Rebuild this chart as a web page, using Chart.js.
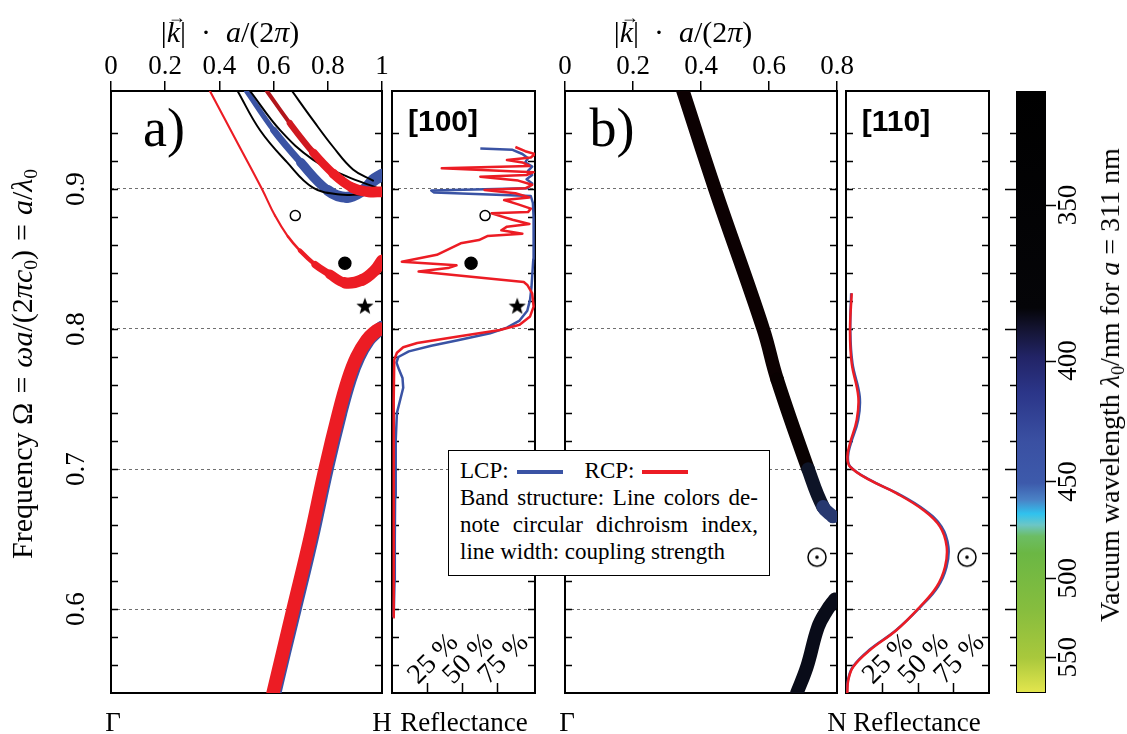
<!DOCTYPE html>
<html>
<head>
<meta charset="utf-8">
<title>Band structure and reflectance</title>
<script src="https://cdn.jsdelivr.net/npm/chart.js@4.4.1/dist/chart.umd.min.js"></script>
<style>
  html, body { margin: 0; padding: 0; background: #fff; }
  #fig { position: relative; width: 1127px; height: 734px; overflow: hidden; background: #fff;
         font-family: 'Liberation Serif', 'DejaVu Serif', serif; color: #000; }
  #fig canvas { position: absolute; left: 0; top: 0; }
  .lbl { position: absolute; white-space: nowrap; font-size: 27px; line-height: 1; transform: translate(-50%, -50%); }
  .rot { transform: translate(-50%, -50%) rotate(-90deg); }
  .ktitle { font-size: 30px; }
  .eq { margin: 0 0.3em; }
  .tag { font-size: 54px; }
  .dir { font-family: 'Liberation Sans', Arial, sans-serif; font-weight: bold; font-size: 30px; }
  .vec { position: relative; display: inline-block; }
  .vec::after { content: '\2192'; position: absolute; left: 0.06em; top: -0.5em; font-size: 0.6em; font-style: normal; }
  sub { font-size: 0.65em; vertical-align: -0.25em; line-height: 0; }
  #legend { position: absolute; left: 448px; top: 450px; width: 322px; height: 126px; box-sizing: border-box;
            border: 1.5px solid #000; background: #fff; padding: 6px 11px 0 11px; font-size: 23px; line-height: 27px; }
  #legend .just { text-align: justify; text-align-last: justify; }
  #legend .sw { display: inline-block; width: 46px; height: 4px; vertical-align: middle; margin-left: 8px; position: relative; top: -1px; }
  #legend .gap { display: inline-block; width: 22px; }
</style>
</head>
<body>
<div id="fig">
  <canvas id="bandA" width="1127" height="734"></canvas>
  <canvas id="reflA" width="1127" height="734"></canvas>
  <canvas id="bandB" width="1127" height="734"></canvas>
  <canvas id="reflB" width="1127" height="734"></canvas>
  <canvas id="cbar" width="1127" height="734"></canvas>

  <div class="lbl ktitle" style="left:230px; top:32px">|<span class="vec"><i>k</i></span>|&ensp;·&ensp;<i>a</i>/(2<i>π</i>)</div>
  <div class="lbl ktitle" style="left:683px; top:32px">|<span class="vec"><i>k</i></span>|&ensp;·&ensp;<i>a</i>/(2<i>π</i>)</div>
  <div class="lbl rot" style="left:22px; top:364px; font-size:30px">Frequency Ω<span class="eq">=</span><i>ωa</i>/(2<i>πc</i><sub>0</sub>)<span class="eq">=</span><i>a</i>/<i>λ</i><sub>0</sub></div>
  <div class="lbl tag" style="left:164px; top:128px">a)</div>
  <div class="lbl tag" style="left:612px; top:128px">b)</div>
  <div class="lbl dir" style="left:443px; top:121px">[100]</div>
  <div class="lbl dir" style="left:896px; top:121px">[110]</div>
  <div class="lbl" style="left:113px; top:722px">Γ</div>
  <div class="lbl" style="left:382px; top:722px">H</div>
  <div class="lbl" style="left:464px; top:722px">Reflectance</div>
  <div class="lbl" style="left:567px; top:722px">Γ</div>
  <div class="lbl" style="left:837px; top:722px">N</div>
  <div class="lbl" style="left:917px; top:722px">Reflectance</div>
  <div class="lbl rot" style="left:1110px; top:385px; font-size:28px">Vacuum wavelength <i>λ</i><sub>0</sub>/nm for <i>a</i> = 311 nm</div>

  <div id="legend">
    <div>LCP:<span class="sw" style="background:#3a53a4"></span><span class="gap"></span>RCP:<span class="sw" style="background:#ec1c24"></span></div>
    <div class="just">Band structure: Line colors de-</div>
    <div class="just">note circular dichroism index,</div>
    <div>line width: coupling strength</div>
  </div>
</div>

<script>
// ---- axes ----
const omegaMin = 0.54;
const omegaMax = 0.97;
const omegaLabels = [0.6, 0.7, 0.8, 0.9];
const reflTicks = [0.25, 0.5, 0.75];
const latticeConst = 311;
const cbWavelengths = [350, 400, 450, 500, 550];

// ---- a) band structure along Gamma-H ----
const lowerRedK = [0.598, 0.635, 0.672, 0.734, 0.790, 0.840, 0.875, 0.907, 0.944, 0.975, 0.992];
const lowerRedOmega = [0.540, 0.570, 0.600, 0.650, 0.700, 0.740, 0.764, 0.780, 0.792, 0.798, 0.800];
const lowerBlueK = [0.604, 0.641, 0.679, 0.741, 0.797, 0.847, 0.882, 0.914, 0.950, 0.980, 1.000];
const lowerBlueOmega = [0.540, 0.570, 0.600, 0.650, 0.700, 0.740, 0.764, 0.780, 0.792, 0.798, 0.801];

const redThinK = [0.365, 0.461, 0.557, 0.605, 0.653, 0.697, 0.753, 0.808, 0.863, 0.926, 0.974, 1.000];
const redThinOmega = [0.970, 0.935, 0.900, 0.881, 0.866, 0.856, 0.846, 0.839, 0.833, 0.835, 0.842, 0.849];
const redThinCoupling = [0.05, 0.05, 0.05, 0.05, 0.06, 0.12, 0.35, 0.6, 0.8, 0.85, 0.85, 0.85];

const blackOneK = [0.467, 0.550, 0.650, 0.745, 0.845, 0.920];
const blackOneOmega = [0.970, 0.942, 0.919, 0.901, 0.896, 0.896];
const blackTwoK = [0.513, 0.624, 0.745, 0.870, 0.980];
const blackTwoOmega = [0.970, 0.942, 0.921, 0.909, 0.901];
const blackThreeK = [0.668, 0.746, 0.820, 0.893, 0.967];
const blackThreeOmega = [0.970, 0.949, 0.930, 0.914, 0.906];

const blueThickK = [0.500, 0.600, 0.700, 0.800, 0.870, 0.930, 0.967, 1.000];
const blueThickOmega = [0.970, 0.942, 0.919, 0.899, 0.894, 0.899, 0.906, 0.910];
const blueThickCoupling = [0.25, 0.35, 0.55, 0.75, 0.8, 0.8, 0.85, 0.95];

const redThickK = [0.575, 0.660, 0.746, 0.820, 0.890, 0.950, 1.000];
const redThickOmega = [0.970, 0.947, 0.926, 0.911, 0.901, 0.898, 0.898];
const redThickCoupling = [0.12, 0.3, 0.5, 0.65, 0.72, 0.75, 0.8];
const redThickCd = [0.7, 0.8, 0.95, 1, 1, 1, 1];

// ---- [100] reflectance ----
const reflABlueOmega = [0.594, 0.62, 0.65, 0.68, 0.70, 0.72, 0.74, 0.750, 0.758, 0.765, 0.771, 0.776, 0.780, 0.784, 0.788,
  0.792, 0.797, 0.801, 0.806, 0.813, 0.821, 0.83, 0.85, 0.87, 0.88, 0.89, 0.895, 0.8975, 0.899, 0.9005, 0.904, 0.907,
  0.910, 0.913, 0.916, 0.919, 0.922, 0.925, 0.928, 0.929];
const reflABlueR = [0.012, 0.018, 0.02, 0.022, 0.025, 0.028, 0.035, 0.06, 0.08, 0.075, 0.05, 0.032, 0.045, 0.12, 0.28,
  0.47, 0.70, 0.82, 0.91, 0.965, 0.985, 0.995, 1.008, 1.01, 1.01, 1.005, 0.99, 0.30, 0.28, 0.97, 1.0, 0.96,
  1.0, 0.97, 1.0, 0.95, 0.97, 0.93, 0.86, 0.63];
const reflARedOmega = [0.594, 0.65, 0.70, 0.75, 0.778, 0.783, 0.787, 0.790, 0.7945, 0.7993, 0.803, 0.809, 0.816, 0.8255,
  0.8315, 0.8335, 0.841, 0.8435, 0.8455, 0.848, 0.853, 0.8612, 0.8635, 0.8664, 0.868, 0.8705, 0.8731, 0.875, 0.878,
  0.8826, 0.8835, 0.886, 0.889, 0.8921, 0.894, 0.897, 0.8993, 0.9005, 0.903, 0.906, 0.9088, 0.910, 0.912, 0.9148,
  0.9165, 0.919, 0.9207, 0.9225, 0.925, 0.927, 0.930];
const reflARedR = [0.01, 0.012, 0.012, 0.013, 0.016, 0.035, 0.08, 0.18, 0.46, 0.77, 0.91, 0.985, 1.01, 1.0,
  0.965, 0.94, 0.19, 0.40, 0.46, 0.07, 0.32, 0.49, 0.62, 0.68, 0.93, 0.78, 0.82, 0.98, 0.86,
  0.71, 0.97, 0.99, 0.90, 0.80, 0.98, 0.88, 0.66, 0.95, 1.0, 0.90, 0.63, 0.96, 1.01, 0.355,
  0.98, 0.93, 0.82, 0.99, 1.02, 0.95, 0.88];

// ---- b) band structure along Gamma-N ----
const bandB1K = [0.347, 0.441, 0.583, 0.624, 0.715, 0.759, 0.788];
const bandB1Omega = [0.970, 0.900, 0.800, 0.764, 0.700, 0.673, 0.666];
const bandB1Cd = [0.05, 0.05, 0.05, 0.05, 0.03, -0.5, -0.85];
const bandB2K = [0.682, 0.712, 0.744, 0.770, 0.794];
const bandB2Omega = [0.540, 0.559, 0.587, 0.599, 0.607];
const bandB2Cd = [-0.15, -0.15, -0.15, -0.15, -0.15];

// ---- [110] reflectance ----
const reflBOmega = [0.54, 0.5493, 0.5588, 0.5707, 0.585, 0.6016, 0.6159, 0.630, 0.6445, 0.6588, 0.6707, 0.6826,
  0.692, 0.7017, 0.709, 0.7183, 0.735, 0.7517, 0.7755, 0.799, 0.8255];
const reflBRedR = [0.009, 0.016, 0.051, 0.168, 0.354, 0.517, 0.634, 0.692, 0.704, 0.657, 0.54, 0.354,
  0.168, 0.028, 0.01, 0.028, 0.075, 0.086, 0.04, 0.028, 0.04];
const reflBBlueR = [0.006, 0.014, 0.048, 0.162, 0.352, 0.522, 0.643, 0.703, 0.716, 0.668, 0.55, 0.36,
  0.17, 0.03, 0.014, 0.034, 0.085, 0.096, 0.045, 0.03, 0.036];

// ---- colour bar (vacuum wavelength) ----
const cbOmega = [0.97, 0.815, 0.800, 0.780, 0.755, 0.72, 0.69, 0.678, 0.668, 0.660, 0.652, 0.640, 0.60, 0.565, 0.54];
const cbColors = ['#000000', '#050508', '#141432', '#222466', '#2b3588', '#3a50a2', '#3d5aab', '#4a82c6', '#30c2ee',
  '#6cc6c6', '#6cbd64', '#6bb744', '#86bd3e', '#a9c83c', '#e4e64e'];

// ---- markers ----
const markersA = { open: [0.68, 0.881], filled: [0.863, 0.847], star: [0.937, 0.816] };
const markersReflA = { open: [0.664, 0.881], filled: [0.564, 0.847], star: [0.893, 0.816] };
const markerB = [0.741, 0.637];
const markerReflB = [0.846, 0.637];

// =====================================================================
const W = 1127, H = 734;
const serif = "'Liberation Serif', 'DejaVu Serif', serif";
const RED = '#ec1c24', BLUE = '#3a53a4';

Chart.defaults.font.family = serif;
Chart.defaults.color = '#000';

function pts(xs, ys) { return xs.map((x, i) => ({ x: x, y: ys[i] })); }
function val(a, i) { return Array.isArray(a) ? a[i] : a; }
function isMajor(v) { return Math.abs(v * 10 - Math.round(v * 10)) < 1e-6; }

function cdColor(cd) {
  const t = Math.min(1, Math.abs(cd));
  const c = cd >= 0 ? [236, 28, 36] : [58, 83, 164];
  return 'rgb(' + c.map(v => Math.round(v * t)).join(',') + ')';
}
function widthOf(c) { return 1.5 + 12 * c; }

function band(k, om, coupling, cd, order) {
  const avg = (a, s) => (val(a, s.p0DataIndex) + val(a, s.p1DataIndex)) / 2;
  const cMax = Array.isArray(coupling) ? Math.max.apply(null, coupling) : coupling;
  return {
    data: pts(k, om),
    borderColor: cdColor(val(cd, 0)),
    borderWidth: widthOf(cMax),
    segment: {
      borderWidth: s => widthOf(avg(coupling, s)),
      borderColor: s => cdColor(avg(cd, s))
    },
    borderCapStyle: 'round',
    borderJoinStyle: 'round',
    tension: 0.4,
    pointRadius: 0,
    order: order
  };
}

function reflLine(omega, r, color, order, tension) {
  return { data: pts(r, omega), borderColor: color, borderWidth: 2.5, borderJoinStyle: 'round',
           tension: tension, pointRadius: 0, order: order };
}

function marker(p, style, radius, fill) {
  return { data: [{ x: p[0], y: p[1] }], showLine: false, pointStyle: style, pointRadius: radius,
           pointBackgroundColor: fill, pointBorderColor: '#000', pointBorderWidth: 1.5, order: 0 };
}

function starImage(r) {
  const c = document.createElement('canvas');
  const s = Math.ceil(2 * r + 2);
  c.width = c.height = s;
  const g = c.getContext('2d');
  g.fillStyle = '#000';
  g.beginPath();
  for (let i = 0; i < 10; i++) {
    const ang = -Math.PI / 2 + i * Math.PI / 5;
    const rr = i % 2 ? r * 0.42 : r;
    g.lineTo(s / 2 + rr * Math.cos(ang), s / 2 + rr * Math.sin(ang));
  }
  g.closePath();
  g.fill();
  return c;
}
function odotImage(r) {
  const c = document.createElement('canvas');
  const s = Math.ceil(2 * r + 4);
  c.width = c.height = s;
  const g = c.getContext('2d');
  g.strokeStyle = '#000';
  g.lineWidth = 1.5;
  g.beginPath(); g.arc(s / 2, s / 2, r, 0, 2 * Math.PI); g.stroke();
  g.fillStyle = '#000';
  g.beginPath(); g.arc(s / 2, s / 2, 1.8, 0, 2 * Math.PI); g.fill();
  return c;
}
const star = starImage(9);
const odot = odotImage(9);

function omegaScale() {
  return {
    type: 'linear', min: omegaMin, max: omegaMax,
    ticks: { stepSize: 0.02, display: false },
    grid: { drawTicks: false, lineWidth: 1,
            color: c => (c.tick && isMajor(c.tick.value)) ? '#707070' : 'rgba(0,0,0,0)' },
    border: { display: false, dash: [3, 3] },
    afterFit: s => { s.width = 0; }
  };
}

const kAxisHeight = 46;
function kScale(max) {
  return {
    type: 'linear', position: 'top', min: 0, max: max,
    ticks: { stepSize: 0.2, font: { size: 27 }, color: '#000', padding: -2, maxRotation: 0, autoSkip: false,
             callback: v => String(Math.round(v * 10) / 10) },
    grid: { drawOnChartArea: false, drawTicks: true, tickLength: 10, color: '#000', lineWidth: 1.5 },
    border: { display: true, color: '#000', width: 2 },
    afterFit: s => { s.height = kAxisHeight; }
  };
}

function reflScale(max) {
  return { type: 'linear', min: 0, max: max, display: false };
}

// frame, inner ticks and rotated labels
function decor(cfg) {
  return {
    id: 'decor',
    beforeDatasetsDraw(chart) {
      const { ctx, chartArea: a, scales: { x, y } } = chart;
      ctx.save();
      ctx.strokeStyle = '#000';
      ctx.lineWidth = 1.5;
      ctx.beginPath();
      y.ticks.forEach(t => {
        if (t.value <= omegaMin + 1e-9 || t.value >= omegaMax - 1e-9) return;
        const py = Math.round(y.getPixelForValue(t.value)) + 0.5;
        ctx.moveTo(a.left, py); ctx.lineTo(a.left + 7, py);
        ctx.moveTo(a.right, py); ctx.lineTo(a.right - 7, py);
      });
      if (cfg.refl) {
        reflTicks.forEach(v => {
          const px = Math.round(x.getPixelForValue(v)) + 0.5;
          ctx.moveTo(px, a.bottom); ctx.lineTo(px, a.bottom - 10);
        });
      }
      ctx.stroke();
      ctx.lineWidth = 2;
      ctx.strokeRect(a.left, a.top, a.right - a.left, a.bottom - a.top);
      ctx.restore();
    },
    afterDraw(chart) {
      const { ctx, chartArea: a, scales: { x, y } } = chart;
      ctx.save();
      ctx.fillStyle = '#000';
      ctx.font = '27px ' + serif;
      if (cfg.yLabels) {
        ctx.textAlign = 'center';
        ctx.textBaseline = 'middle';
        omegaLabels.forEach(v => {
          ctx.save();
          ctx.translate(a.left - 34, y.getPixelForValue(v));
          ctx.rotate(-Math.PI / 2);
          ctx.fillText(v.toFixed(1), 0, 0);
          ctx.restore();
        });
      }
      if (cfg.refl) {
        ctx.font = '28px ' + serif;
        ctx.textAlign = 'left';
        ctx.textBaseline = 'alphabetic';
        reflTicks.forEach(v => {
          ctx.save();
          ctx.translate(x.getPixelForValue(v) - 9, a.bottom - 8);
          ctx.rotate(-Math.PI / 4);
          ctx.fillText(Math.round(v * 100) + ' %', 0, 0);
          ctx.restore();
        });
      }
      ctx.restore();
    }
  };
}

function makeChart(id, area, datasets, xScale, cfg) {
  const top = cfg.kAxis ? 91 - kAxisHeight : 91;
  return new Chart(document.getElementById(id), {
    type: 'line',
    data: { datasets: datasets },
    options: {
      responsive: false,
      animation: false,
      events: [],
      layout: { padding: { left: area[0], top: top, right: W - area[1], bottom: H - 693 } },
      scales: { x: xScale, y: omegaScale() },
      plugins: { legend: { display: false }, tooltip: { enabled: false } }
    },
    plugins: [decor(cfg)]
  });
}

// a) band structure
makeChart('bandA', [111, 382], [
  band(lowerBlueK, lowerBlueOmega, 1, -1, 20),
  band(lowerRedK, lowerRedOmega, 1, 1, 19),
  band(redThinK, redThinOmega, redThinCoupling, 1, 18),
  band(blueThickK, blueThickOmega, blueThickCoupling, -1, 17),
  band(blackOneK, blackOneOmega, 0.04, 0, 16),
  band(blackTwoK, blackTwoOmega, 0.04, 0, 16),
  band(redThickK, redThickOmega, redThickCoupling, redThickCd, 15),
  band(blackThreeK, blackThreeOmega, 0.04, 0, 14),
  marker(markersA.open, 'circle', 5, '#fff'),
  marker(markersA.filled, 'circle', 6, '#000'),
  marker(markersA.star, star, 9, '#000')
], kScale(1), { yLabels: true, kAxis: true });

// [100] reflectance
makeChart('reflA', [392, 535], [
  reflLine(reflABlueOmega, reflABlueR, BLUE, 6, 0),
  reflLine(reflARedOmega, reflARedR, RED, 5, 0),
  marker(markersReflA.open, 'circle', 5, '#fff'),
  marker(markersReflA.filled, 'circle', 6, '#000'),
  marker(markersReflA.star, star, 9, '#000')
], reflScale(1.02), { refl: true });

// b) band structure
makeChart('bandB', [565, 837], [
  band(bandB1K, bandB1Omega, 1, bandB1Cd, 10),
  band(bandB2K, bandB2Omega, 1, bandB2Cd, 9),
  marker(markerB, odot, 9, '#fff')
], kScale(0.8), { kAxis: true });

// [110] reflectance
makeChart('reflB', [846, 989], [
  reflLine(reflBOmega, reflBBlueR, BLUE, 6, 0.4),
  reflLine(reflBOmega, reflBRedR, RED, 5, 0.4),
  marker(markerReflB, odot, 9, '#fff')
], reflScale(1), { refl: true });

// colour bar
const cbarDecor = {
  id: 'cbarDecor',
  afterDraw(chart) {
    const { ctx, chartArea: a, scales: { y } } = chart;
    ctx.save();
    ctx.strokeStyle = '#000';
    ctx.lineWidth = 1;
    ctx.strokeRect(a.left + 0.5, a.top + 0.5, a.right - a.left - 1, a.bottom - a.top - 1);
    ctx.lineWidth = 1.5;
    ctx.beginPath();
    y.ticks.forEach(t => {
      if (t.value <= omegaMin + 1e-9 || t.value >= omegaMax - 1e-9) return;
      const py = Math.round(y.getPixelForValue(t.value)) + 0.5;
      ctx.moveTo(a.left, py); ctx.lineTo(a.left - (isMajor(t.value) ? 11 : 6), py);
    });
    cbWavelengths.forEach(l => {
      const py = Math.round(y.getPixelForValue(latticeConst / l)) + 0.5;
      ctx.moveTo(a.right, py); ctx.lineTo(a.right + 10, py);
    });
    ctx.stroke();
    ctx.fillStyle = '#000';
    ctx.font = '27px ' + serif;
    ctx.textAlign = 'center';
    ctx.textBaseline = 'middle';
    cbWavelengths.forEach(l => {
      ctx.save();
      ctx.translate(a.right + 23, y.getPixelForValue(latticeConst / l));
      ctx.rotate(-Math.PI / 2);
      ctx.fillText(String(l), 0, 0);
      ctx.restore();
    });
    ctx.restore();
  }
};

new Chart(document.getElementById('cbar'), {
  type: 'bar',
  data: {
    labels: ['λ0'],
    datasets: [{
      data: [[omegaMin, omegaMax]],
      barPercentage: 1,
      categoryPercentage: 1,
      borderWidth: 0,
      backgroundColor: c => {
        const chart = c.chart;
        if (!chart.chartArea) return '#000';
        const y = chart.scales.y;
        const g = chart.ctx.createLinearGradient(0, y.getPixelForValue(omegaMax), 0, y.getPixelForValue(omegaMin));
        cbOmega.forEach((om, i) => {
          g.addColorStop(Math.min(1, Math.max(0, (omegaMax - om) / (omegaMax - omegaMin))), cbColors[i]);
        });
        return g;
      }
    }]
  },
  options: {
    responsive: false,
    animation: false,
    events: [],
    layout: { padding: { left: 1016, top: 91, right: W - 1046, bottom: H - 693 } },
    scales: {
      x: { display: false },
      y: { type: 'linear', min: omegaMin, max: omegaMax, ticks: { stepSize: 0.02, display: false },
           grid: { display: false, drawTicks: false }, border: { display: false },
           afterFit: s => { s.width = 0; } }
    },
    plugins: { legend: { display: false }, tooltip: { enabled: false } }
  },
  plugins: [cbarDecor]
});
</script>
</body>
</html>
